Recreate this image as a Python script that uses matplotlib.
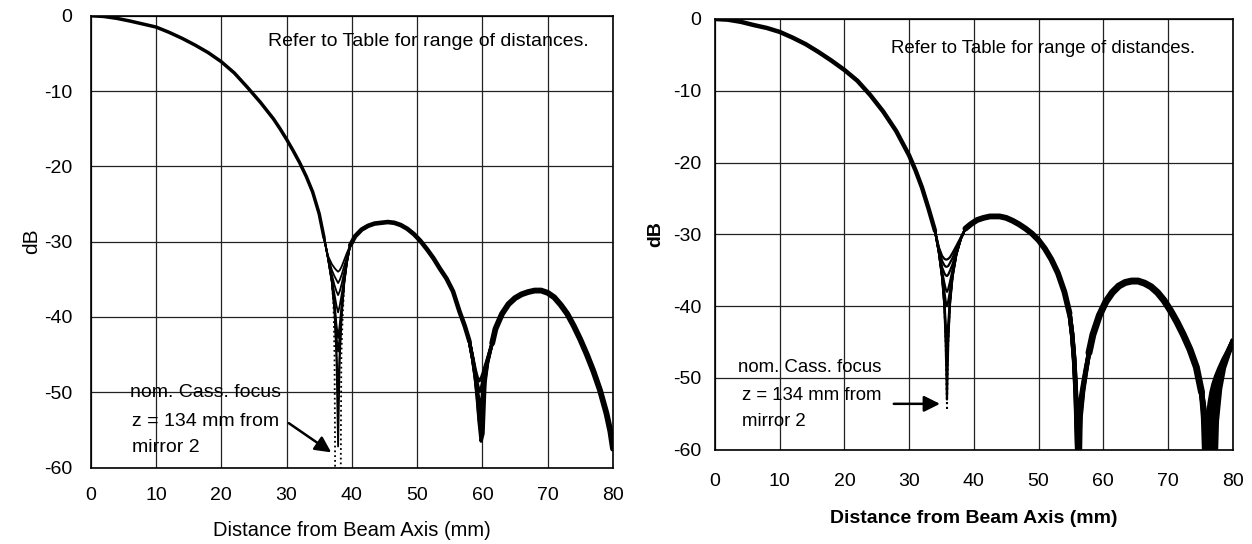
import matplotlib
matplotlib.use('Agg')
import matplotlib.pyplot as plt

plt.rcParams['font.family'] = ['Liberation Sans', 'DejaVu Sans']
plt.rcParams['axes.unicode_minus'] = False

# ---------------- left panel ----------------
left_a_x = [0, 2, 4, 6, 8, 10, 12, 14, 16, 18, 20, 22, 24, 26, 28, 29, 30, 31, 32, 33, 34, 35, 35.75]
left_a_db = [0, -0.1, -0.35, -0.7, -1.1, -1.5, -2.2, -3.0, -3.9, -4.9, -6.1, -7.6, -9.5, -11.5,
             -13.7, -15.0, -16.4, -17.9, -19.5, -21.3, -23.4, -26.3, -29.5]

left_n1_x = [35.75, 36.35, 36.95, 37.35, 37.65, 37.9, 38.15, 38.45, 38.85, 39.25, 39.75]
left_n1_db = [
    [-29.5, -31.9, -33.0, -33.5, -33.8, -34.0, -33.8, -33.3, -32.4, -31.5, -30.5],
    [-29.5, -32.0, -33.8, -34.6, -35.1, -35.5, -35.1, -34.4, -33.2, -32.0, -30.5],
    [-29.5, -32.1, -34.4, -35.8, -36.6, -37.1, -36.6, -35.6, -34.0, -32.4, -30.5],
    [-29.5, -32.1, -34.9, -37.0, -38.5, -39.4, -38.5, -37.0, -34.7, -32.6, -30.5],
    [-29.5, -32.2, -35.2, -38.0, -41.0, -42.8, -41.0, -38.3, -35.2, -32.7, -30.5],
    [-29.5, -32.2, -35.3, -38.5, -42.5, -44.6, -42.5, -38.9, -35.3, -32.8, -30.5],
    [-29.5, -32.2, -35.4, -39.0, -44.5, -50.1, -44.5, -39.5, -35.4, -32.8, -30.5],
    [-29.5, -32.2, -35.5, -39.3, -45.5, -57.2, -45.5, -39.8, -35.5, -32.8, -30.5],
]
left_dot_x = [36.95, 37.2, 37.35, 37.42, 37.45, 38.3, 38.33, 38.4, 38.6, 38.85]
left_dot_db = [-35.5, -38.5, -45.0, -55.0, -64.0, -64.0, -55.0, -45.0, -40.0, -35.5]

left_b_x = [39.75, 40.5, 41.5, 42.5, 43.5, 44.5, 45.5, 46.5, 47.5, 48.5, 49.5, 50.5, 51.5,
            52.5, 53.5, 54.5, 55.5, 56.5, 57.3, 58.0]
left_b_db = [-30.5, -29.3, -28.4, -27.9, -27.6, -27.5, -27.4, -27.5, -27.8, -28.3, -29.0, -29.9,
             -31.0, -32.2, -33.6, -34.9, -36.6, -39.3, -41.2, -43.2]

left_n2_x = [58.0, 58.5, 58.9, 59.2, 59.5, 59.8, 60.1, 60.4, 60.8, 61.2, 61.5]
left_n2_db = [
    [-43.2, -45.3, -47.0, -48.0, -48.5, -48.2, -47.5, -46.6, -45.5, -44.3, -43.5],
    [-43.2, -45.4, -47.3, -48.8, -49.9, -49.6, -48.4, -47.0, -45.6, -44.4, -43.5],
    [-43.2, -45.5, -47.6, -49.5, -51.3, -51.9, -49.5, -47.4, -45.8, -44.4, -43.5],
    [-43.2, -45.5, -47.8, -50.0, -52.5, -54.0, -50.5, -47.8, -45.9, -44.5, -43.5],
    [-43.2, -45.6, -48.0, -50.4, -53.5, -55.5, -52.0, -48.2, -46.0, -44.5, -43.5],
    [-43.2, -45.6, -48.1, -50.7, -54.0, -56.5, -55.5, -48.8, -46.1, -44.6, -43.5],
]

left_c_x = [61.5, 62, 63, 64, 65, 66, 67, 68, 69, 70, 71, 72, 73, 74, 75, 76, 77, 78, 79, 79.6, 80]
left_c_db = [-43.5, -41.6, -39.6, -38.3, -37.5, -37.0, -36.7, -36.5, -36.5, -36.8, -37.4, -38.4,
             -39.6, -41.2, -43.0, -45.0, -47.2, -49.7, -52.8, -55.2, -57.5]

# ---------------- right panel ----------------
right_a_x = [0, 2, 4, 6, 8, 10, 12, 14, 16, 18, 20, 22, 24, 26, 28, 30, 31, 32, 33, 34]
right_a_db = [0, -0.1, -0.4, -0.85, -1.25, -1.8, -2.6, -3.5, -4.6, -5.8, -7.1, -8.6, -10.6,
              -12.9, -15.6, -19.0, -21.1, -23.5, -26.4, -29.5]

right_n1_x = [34.0, 34.6, 35.1, 35.45, 35.65, 35.85, 36.05, 36.3, 36.7, 37.3, 38.0, 38.7]
right_n1_db = [
    [-29.5, -31.8, -33.0, -33.4, -33.5, -33.5, -33.4, -33.2, -32.6, -31.6, -30.4, -29.2],
    [-29.5, -32.0, -33.7, -34.3, -34.5, -34.5, -34.4, -34.0, -33.3, -32.0, -30.5, -29.2],
    [-29.5, -32.2, -34.6, -35.4, -35.7, -35.8, -35.6, -35.1, -34.2, -32.3, -30.5, -29.2],
    [-29.5, -32.3, -35.2, -36.8, -37.6, -38.0, -37.6, -36.7, -35.0, -32.6, -30.6, -29.2],
    [-29.5, -32.4, -35.6, -38.0, -39.3, -40.0, -39.3, -38.0, -35.5, -32.7, -30.6, -29.2],
    [-29.5, -32.5, -35.8, -39.2, -42.5, -44.5, -42.5, -39.3, -35.8, -32.8, -30.6, -29.2],
    [-29.5, -32.5, -35.9, -39.6, -44.0, -48.0, -44.0, -39.6, -35.9, -32.8, -30.6, -29.2],
    [-29.5, -32.5, -36.0, -39.9, -44.8, -53.0, -44.8, -39.9, -36.0, -32.8, -30.6, -29.2],
]
right_dot_db = [-29.5, -32.5, -36.0, -40.0, -45.5, -54.5, -45.5, -40.0, -36.0, -32.8, -30.6, -29.2]

right_b_x = [38.7, 39.5, 40.5, 41.5, 42.5, 43.3, 44, 45, 46, 47, 48, 49, 50, 51, 52, 53, 54, 54.8]
right_b_db = [-29.2, -28.6, -28.0, -27.7, -27.5, -27.5, -27.5, -27.7, -28.1, -28.6, -29.2,
              -29.9, -30.8, -32.0, -33.5, -35.4, -38.0, -41.0]

right_n2_x = [54.8, 55.2, 55.5, 55.75, 55.95, 56.1, 56.25, 56.5, 56.9, 57.3, 57.8]
right_n2_db = [
    [-41.0, -43.8, -47.0, -51.0, -56.0, -57.0, -55.5, -53.0, -50.8, -48.8, -46.5],
    [-41.0, -43.9, -47.2, -51.5, -57.0, -60.0, -57.5, -54.0, -51.2, -49.0, -46.5],
    [-41.0, -44.0, -47.4, -52.0, -58.5, -64.0, -59.5, -54.8, -51.5, -49.2, -46.5],
    [-41.0, -44.1, -47.6, -52.5, -59.5, -64.0, -68.0, -55.5, -51.8, -49.4, -46.5],
]

right_c_x = [57.8, 58.4, 59.4, 60.4, 61.4, 62.4, 63.4, 64.4, 65.4, 66.4, 67.4, 68.4, 69.4,
             70.4, 71.4, 72.4, 73.4, 74.4, 75.2]
right_c_db = [-46.5, -44.0, -41.3, -39.4, -38.1, -37.2, -36.7, -36.5, -36.5, -36.8, -37.3,
              -38.1, -39.2, -40.6, -42.2, -44.0, -46.0, -48.5, -52.0]

right_n3_x = [75.2, 75.5, 75.8, 76.05, 76.3, 76.55, 76.8, 77.1, 77.5, 78.0, 78.6, 79.3, 80.0]
right_n3_db = [
    [-52.0, -55.5, -64.0, -58.0, -55.0, -53.3, -52.0, -50.9, -49.8, -48.7, -47.5, -46.3, -45.0],
    [-52.0, -54.5, -57.5, -61.0, -66.0, -58.5, -55.5, -53.3, -51.3, -49.5, -47.8, -46.4, -45.0],
    [-52.0, -54.0, -56.5, -59.0, -62.0, -65.0, -67.0, -58.0, -53.5, -50.5, -48.2, -46.5, -45.0],
    [-52.0, -53.8, -56.0, -58.0, -60.5, -63.0, -66.0, -68.0, -56.0, -51.5, -48.6, -46.7, -45.0],
]

x_ticks = [0, 10, 20, 30, 40, 50, 60, 70, 80]
y_ticks = [0, -10, -20, -30, -40, -50, -60]
note_text = "Refer to Table for range of distances."
focus_lines = ["nom. Cass. focus", "z = 134 mm from", "mirror 2"]


def setup_axes(ax, ticksize, padx, pady):
    ax.set_xlim(0, 80)
    ax.set_ylim(-60, 0)
    ax.set_xticks(x_ticks)
    ax.set_yticks(y_ticks)
    ax.grid(True, color='#222222', lw=0.9)
    ax.set_axisbelow(True)
    ax.tick_params(length=0, labelsize=ticksize)
    ax.tick_params(axis='x', pad=padx)
    ax.tick_params(axis='y', pad=pady)
    for s in ax.spines.values():
        s.set_linewidth(1.2)


fig = plt.figure(figsize=(12.52, 5.44), dpi=100, facecolor='white')

# left
ax = fig.add_axes([0.0724, 0.1406, 0.4172, 0.8305])
setup_axes(ax, 14, 14, 13)
ax.plot(left_a_x, left_a_db, color='k', lw=2.5, solid_capstyle='round')
ax.plot(left_b_x, left_b_db, color='k', lw=3.3, solid_capstyle='round')
ax.plot(left_c_x, left_c_db, color='k', lw=4.2, solid_capstyle='round')
for row in left_n1_db:
    ax.plot(left_n1_x, row, color='k', lw=1.3)
for row in left_n2_db:
    ax.plot(left_n2_x, row, color='k', lw=2.4)
ax.plot(left_dot_x, left_dot_db, color='k', lw=1.3, ls=':')
ax.text(27.2, -3.45, note_text, fontsize=14, va='center', ha='left')
ax.text(6.0, -50.0, focus_lines[0], fontsize=14, va='center', ha='left')
ax.text(6.3, -53.9, focus_lines[1], fontsize=14, va='center', ha='left')
ax.text(6.3, -57.3, focus_lines[2], fontsize=14, va='center', ha='left')
ax.annotate('', xy=(37.2, -58.2), xytext=(30.0, -53.9),
            arrowprops=dict(arrowstyle='-|>', color='k', lw=1.8, mutation_scale=24))
ax.set_xlabel("Distance from Beam Axis (mm)", fontsize=14.5, labelpad=12)
ax.set_ylabel("dB", fontsize=15, labelpad=2)

# right
ax = fig.add_axes([0.5711, 0.1732, 0.4134, 0.7919])
setup_axes(ax, 14, 17, 10)
ax.plot(right_a_x, right_a_db, color='k', lw=3.2, solid_capstyle='round')
ax.plot(right_b_x, right_b_db, color='k', lw=4.2, solid_capstyle='round')
ax.plot(right_c_x, right_c_db, color='k', lw=5.0, solid_capstyle='round')
for row in right_n1_db:
    ax.plot(right_n1_x, row, color='k', lw=1.6)
ax.plot(right_n1_x, right_dot_db, color='k', lw=1.3, ls=':')
for row in right_n2_db:
    ax.plot(right_n2_x, row, color='k', lw=3.2)
for row in right_n3_db:
    ax.plot(right_n3_x, row, color='k', lw=3.8)
ax.text(27.2, -4.1, note_text, fontsize=13.4, va='center', ha='left')
ax.text(3.6, -48.6, focus_lines[0], fontsize=13.4, va='center', ha='left')
ax.text(4.1, -52.5, focus_lines[1], fontsize=13.4, va='center', ha='left')
ax.text(4.1, -56.0, focus_lines[2], fontsize=13.4, va='center', ha='left')
ax.annotate('', xy=(35.2, -53.6), xytext=(27.2, -53.6),
            arrowprops=dict(arrowstyle='-|>', color='k', lw=1.8, mutation_scale=24))
ax.set_xlabel("Distance from Beam Axis (mm)", fontsize=14, fontweight='bold', labelpad=14)
ax.set_ylabel("dB", fontsize=14, fontweight='bold', labelpad=6)

fig.savefig('out.png', dpi=100, facecolor='white')
